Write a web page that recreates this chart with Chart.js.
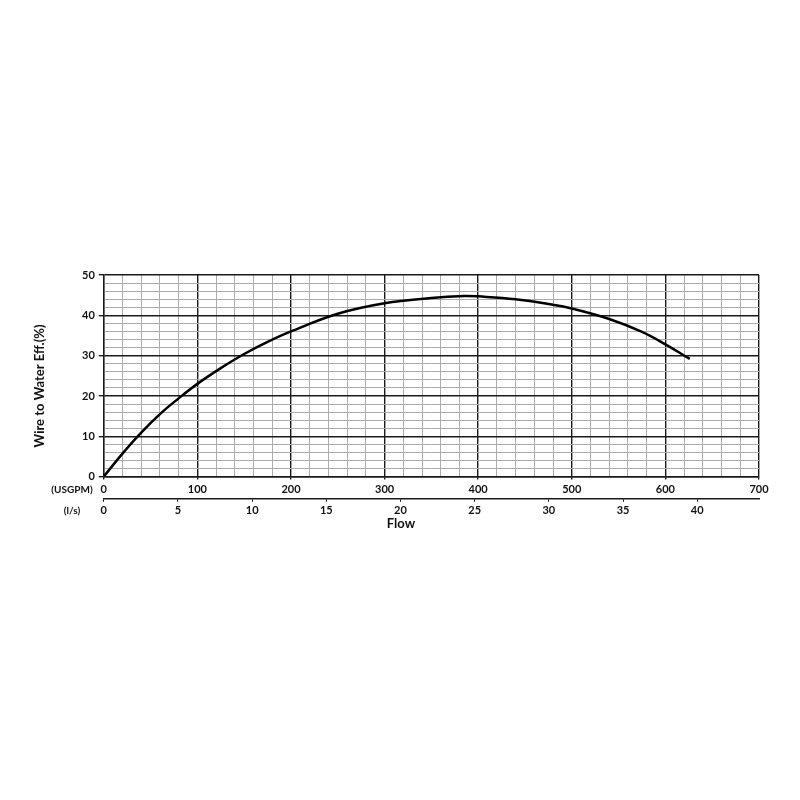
<!DOCTYPE html>
<html>
<head>
<meta charset="utf-8">
<script src="https://cdn.jsdelivr.net/npm/chart.js@4"></script>
<style>
  html, body { margin: 0; padding: 0; background: #fff; }
  #wrap { width: 800px; height: 800px; }
</style>
</head>
<body>
<div id="wrap"><canvas id="chart" width="800" height="800"></canvas></div>
<script>
// flow (USGPM) vs wire-to-water efficiency (%)
const flowGpm = [0, 20, 40, 60, 80, 100, 125, 150, 175, 200, 250, 300, 350, 385, 400, 440, 475, 500, 540, 575, 600, 626];
const effPct  = [0, 5.7, 10.9, 15.5, 19.4, 23.0, 26.9, 30.4, 33.4, 36.0, 40.4, 43.0, 44.3, 44.8, 44.7, 44.0, 42.8, 41.7, 39.1, 35.9, 32.8, 29.2];

const gpmTicks = [0, 100, 200, 300, 400, 500, 600, 700];
const lpsTicks = [0, 5, 10, 15, 20, 25, 30, 35, 40];
const effTicks = [0, 10, 20, 30, 40, 50];
const GPM_PER_LPS = 15.85;

const family = 'Lato, "Open Sans", sans-serif';
const font = { family: family, weight: 'bold', size: 11 };
const major = '#1a1a1a';
const minor = '#ababab';

// axis titles and unit labels sit a bit off-centre in the original, so draw them here
const sideLabels = {
  id: 'sideLabels',
  afterDraw(chart) {
    const ctx = chart.ctx;
    const x = chart.scales.x, x2 = chart.scales.x2;
    ctx.save();
    ctx.fillStyle = '#111';
    ctx.textAlign = 'center';
    ctx.textBaseline = 'middle';
    ctx.font = 'bold 10px ' + family;
    ctx.fillText('(USGPM)', 72, x.top + 13);
    ctx.fillText('(l/s)', 72, x2.top + 12);
    ctx.font = 'bold 13px ' + family;
    ctx.fillText('Flow', 401, 524);
    ctx.translate(40, 386);
    ctx.rotate(-Math.PI / 2);
    ctx.fillText('Wire to Water Eff.(%)', 0, 0);
    ctx.restore();
  }
};

new Chart(document.getElementById('chart'), {
  type: 'line',
  data: {
    datasets: [{
      data: flowGpm.map((f, i) => ({ x: f, y: effPct[i] })),
      borderColor: '#000',
      borderWidth: 2.5,
      pointRadius: 0,
      fill: false,
      tension: 0.4
    }]
  },
  options: {
    responsive: false,
    animation: false,
    layout: { padding: { top: 275, left: 78, right: 41, bottom: 281 } },
    plugins: { legend: { display: false }, tooltip: { enabled: false } },
    scales: {
      x: {
        type: 'linear', position: 'bottom', min: 0, max: 700,
        ticks: {
          stepSize: 20, autoSkip: false, maxRotation: 0, font: font, color: '#111', padding: 3,
          callback: v => gpmTicks.includes(v) ? String(v) : ''
        },
        grid: {
          color: c => gpmTicks.includes(c.tick.value) ? major : minor,
          lineWidth: c => gpmTicks.includes(c.tick.value) ? 1.4 : 1,
          tickColor: c => gpmTicks.includes(c.tick.value) ? major : 'rgba(0,0,0,0)',
          tickLength: 3
        },
        border: { color: major, width: 1.4 }
      },
      x2: {
        type: 'linear', position: 'bottom', min: 0, max: 700 / GPM_PER_LPS,
        afterBuildTicks: axis => { axis.ticks = lpsTicks.map(v => ({ value: v })); },
        ticks: { autoSkip: false, maxRotation: 0, font: font, color: '#111', padding: 2 },
        grid: { drawOnChartArea: false, color: major, tickLength: 3 },
        border: { color: major, width: 1.4 }
      },
      y: {
        min: 0, max: 50,
        ticks: {
          stepSize: 2, autoSkip: false, font: font, color: '#111', padding: 4,
          callback: v => effTicks.includes(v) ? String(v) : ''
        },
        grid: {
          color: c => effTicks.includes(c.tick.value) ? major : minor,
          lineWidth: c => effTicks.includes(c.tick.value) ? 1.4 : 1,
          tickColor: c => effTicks.includes(c.tick.value) ? major : 'rgba(0,0,0,0)',
          tickLength: 5
        },
        border: { color: major, width: 1.4 }
      }
    }
  },
  plugins: [sideLabels]
});
</script>
</body>
</html>
